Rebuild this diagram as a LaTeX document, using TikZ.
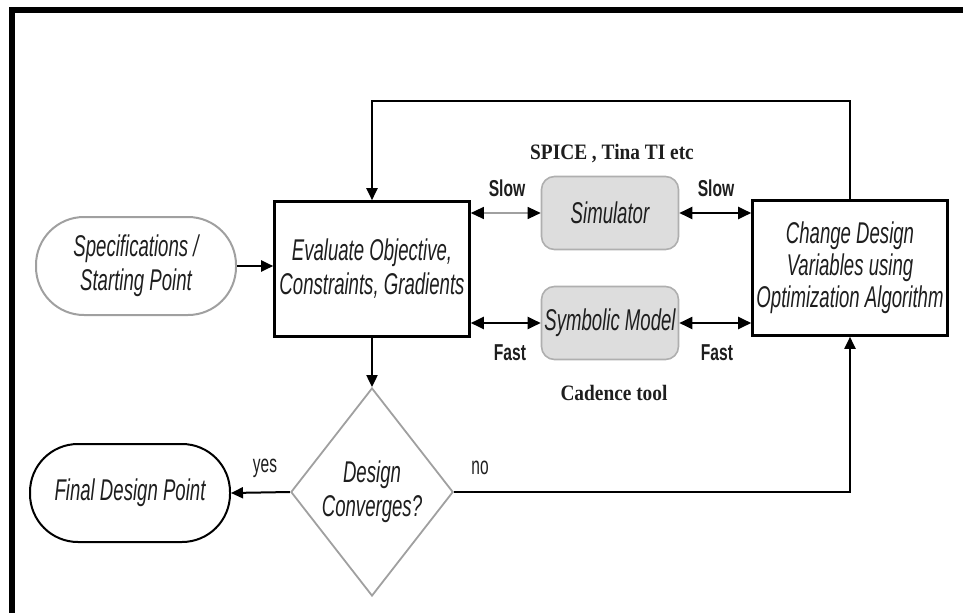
\documentclass[tikz,border=0pt]{standalone}
\usepackage{fontspec}
\setmainfont{Liberation Sans}
\newfontfamily\nit{Liberation Sans}[FakeStretch=0.62]
\newfontfamily\nbf{Liberation Sans}[FakeStretch=0.68]
\newfontfamily\sbf{Liberation Serif}[FakeStretch=0.88]
\usetikzlibrary{arrows.meta,shapes.geometric}
\definecolor{txt}{RGB}{30,30,30}
\definecolor{lgray}{RGB}{160,160,160}
\definecolor{boxfill}{RGB}{221,221,221}
\definecolor{boxline}{RGB}{175,175,175}
\tikzset{
  lbl/.style={font=\nit\itshape\fontsize{30}{34}\selectfont, text=txt, align=center, inner sep=0pt},
  blackbox/.style={lbl, draw=black, line width=2.6pt, minimum width=195pt, minimum height=135pt},
  greybox/.style={lbl, draw=boxline, fill=boxfill, line width=1.6pt, rounded corners=13pt, minimum width=137pt, minimum height=73pt},
  term/.style={lbl, line width=2pt, rounded corners=48pt, minimum width=200pt, minimum height=98pt},
  slab/.style={font=\nbf\bfseries\fontsize{23}{26}\selectfont, text=txt, inner sep=0pt},
  tlab/.style={font=\sbf\bfseries\fontsize{22}{25}\selectfont, text=txt, inner sep=0pt},
  ylab/.style={font=\nit\fontsize{25}{28}\selectfont, text=txt, inner sep=0pt},
  conn/.style={line width=2pt, black},
  tip/.style={-{Triangle[length=12pt,width=11pt,color=black]}},
  dtip/.style={{Triangle[length=13pt,width=12pt,color=black]}-{Triangle[length=13pt,width=12pt,color=black]}},
}
\begin{document}
\begin{tikzpicture}[x=1pt,y=-1pt]
\useasboundingbox (0,0) rectangle (963,613);
% frame
\draw[line width=6pt] (9,10) -- (963,10);
\draw[line width=6pt] (12,7) -- (12,613);

\node[term, draw=lgray] (spec) at (136,266) {Specifications /\\Starting Point};
\node[blackbox] (eval) at (372,269) {Evaluate Objective,\\Constraints, Gradients};
\node[greybox] (sim) at (610,213) {Simulator};
\node[greybox] (sym) at (610,323) {Symbolic Model};
\node[blackbox, font=\nit\itshape\fontsize{30}{32}\selectfont] (chg) at (850,268) {Change Design\\Variables using\\Optimization Algorithm};
\node[lbl, draw=lgray, line width=1.8pt, shape=diamond, minimum width=160pt, minimum height=208pt, align=center] (dia) at (372,492) {Design\\Converges?};
\node[term, draw=black] (fin) at (130,493) {Final Design Point};

% labels
\node[tlab] (spice) at (612,154) {SPICE , Tina TI etc};
\node[tlab] (cad) at (614,393) {Cadence tool};
\node[slab] (s1) at (507,188) {Slow};
\node[slab] (s2) at (716,188) {Slow};
\node[slab] (f1) at (510,353) {Fast};
\node[slab] (f2) at (717,353) {Fast};
\node[ylab] (yes) at (265,468) {yes};
\node[ylab] (no) at (480,468) {no};

% connectors
\draw[conn, tip] (spec.east) -- (spec.east -| eval.west);
\draw[line width=1.2pt, lgray, dtip] (eval.east |- sim.west) -- (sim.west);
\draw[conn, dtip] (sim.east) -- (sim.east -| chg.west);
\draw[conn, dtip] (eval.east |- sym.west) -- (sym.west);
\draw[conn, dtip] (sym.east) -- (sym.east -| chg.west);
\draw[conn, tip] (chg.north) -- ++(0,-98) -| (eval.north);
\draw[conn, tip] (eval.south) -- (dia.north);
\draw[conn, tip] (dia.west) -- (fin.east);
\draw[conn, tip] (dia.east) -| (chg.south);
\end{tikzpicture}
\end{document}
